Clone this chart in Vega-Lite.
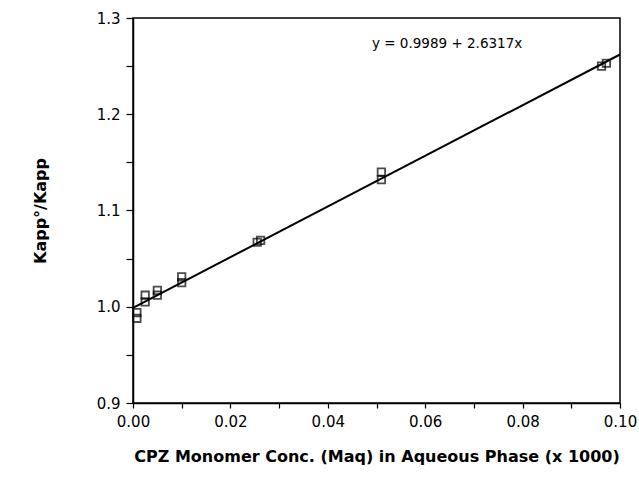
{
  "$schema": "https://vega.github.io/schema/vega-lite/v6.json",
  "width": 487,
  "height": 385,
  "autosize": {"type": "none"},
  "padding": {"left": 133, "top": 18, "right": 19, "bottom": 77},
  "background": "white",
  "config": {
    "view": {"stroke": "black", "strokeWidth": 1.5},
    "font": "DejaVu Sans",
    "axis": {"domainColor": "black", "tickColor": "black", "labelColor": "black", "titleColor": "black", "domainWidth": 1.5, "tickWidth": 1.2, "grid": false, "labelFontSize": 15, "labelFont": "DejaVu Sans", "titleFont": "DejaVu Sans", "titleFontSize": 16, "titleFontWeight": "bold", "labelFlush": false}
  },
  "datasets": {
    "pts": [
      {"x": 0.0008, "y": 0.988}, {"x": 0.0008, "y": 0.994},
      {"x": 0.0025, "y": 1.005}, {"x": 0.0025, "y": 1.012},
      {"x": 0.005, "y": 1.012}, {"x": 0.005, "y": 1.017},
      {"x": 0.010, "y": 1.025}, {"x": 0.010, "y": 1.031},
      {"x": 0.0255, "y": 1.067}, {"x": 0.0262, "y": 1.069},
      {"x": 0.051, "y": 1.132}, {"x": 0.051, "y": 1.140},
      {"x": 0.0962, "y": 1.250}, {"x": 0.0972, "y": 1.253}
    ],
    "fit": [{"x": 0.0, "y": 0.9989}, {"x": 0.1, "y": 1.26207}],
    "label": [{"x": 0.0645, "y": 1.273, "text": "y = 0.9989 + 2.6317x"}]
  },
  "layer": [
    {
      "data": {"name": "fit"},
      "mark": {"type": "line", "color": "black", "strokeWidth": 2},
      "encoding": {
        "x": {"field": "x", "type": "quantitative", "scale": {"domain": [0, 0.1], "nice": false},
          "axis": {"values": [0, 0.01, 0.02, 0.03, 0.04, 0.05, 0.06, 0.07, 0.08, 0.09, 0.1], "format": ".2f", "labelExpr": "round(datum.value*100) % 2 == 0 ? datum.label : ''", "title": "CPZ Monomer Conc. (Maq) in Aqueous Phase (x 1000)", "labelPadding": 6, "titlePadding": 19, "tickSize": 5}},
        "y": {"field": "y", "type": "quantitative", "scale": {"domain": [0.9, 1.3], "nice": false, "zero": false},
          "axis": {"values": [0.9, 0.95, 1.0, 1.05, 1.1, 1.15, 1.2, 1.25, 1.3], "format": ".1f", "labelExpr": "round(datum.value*100) % 10 == 0 ? datum.label : ''", "title": "Kapp°/Kapp", "titlePadding": 48, "labelPadding": 6, "tickSize": 7}}
      }
    },
    {
      "data": {"name": "pts"},
      "mark": {"type": "point", "shape": "square", "filled": false, "color": "black", "size": 55, "strokeWidth": 1.8},
      "encoding": {
        "x": {"field": "x", "type": "quantitative"},
        "y": {"field": "y", "type": "quantitative"}
      }
    },
    {
      "data": {"name": "label"},
      "mark": {"type": "text", "fontSize": 13.5, "color": "black", "align": "center", "baseline": "middle"},
      "encoding": {
        "x": {"field": "x", "type": "quantitative"},
        "y": {"field": "y", "type": "quantitative"},
        "text": {"field": "text"}
      }
    }
  ]
}
